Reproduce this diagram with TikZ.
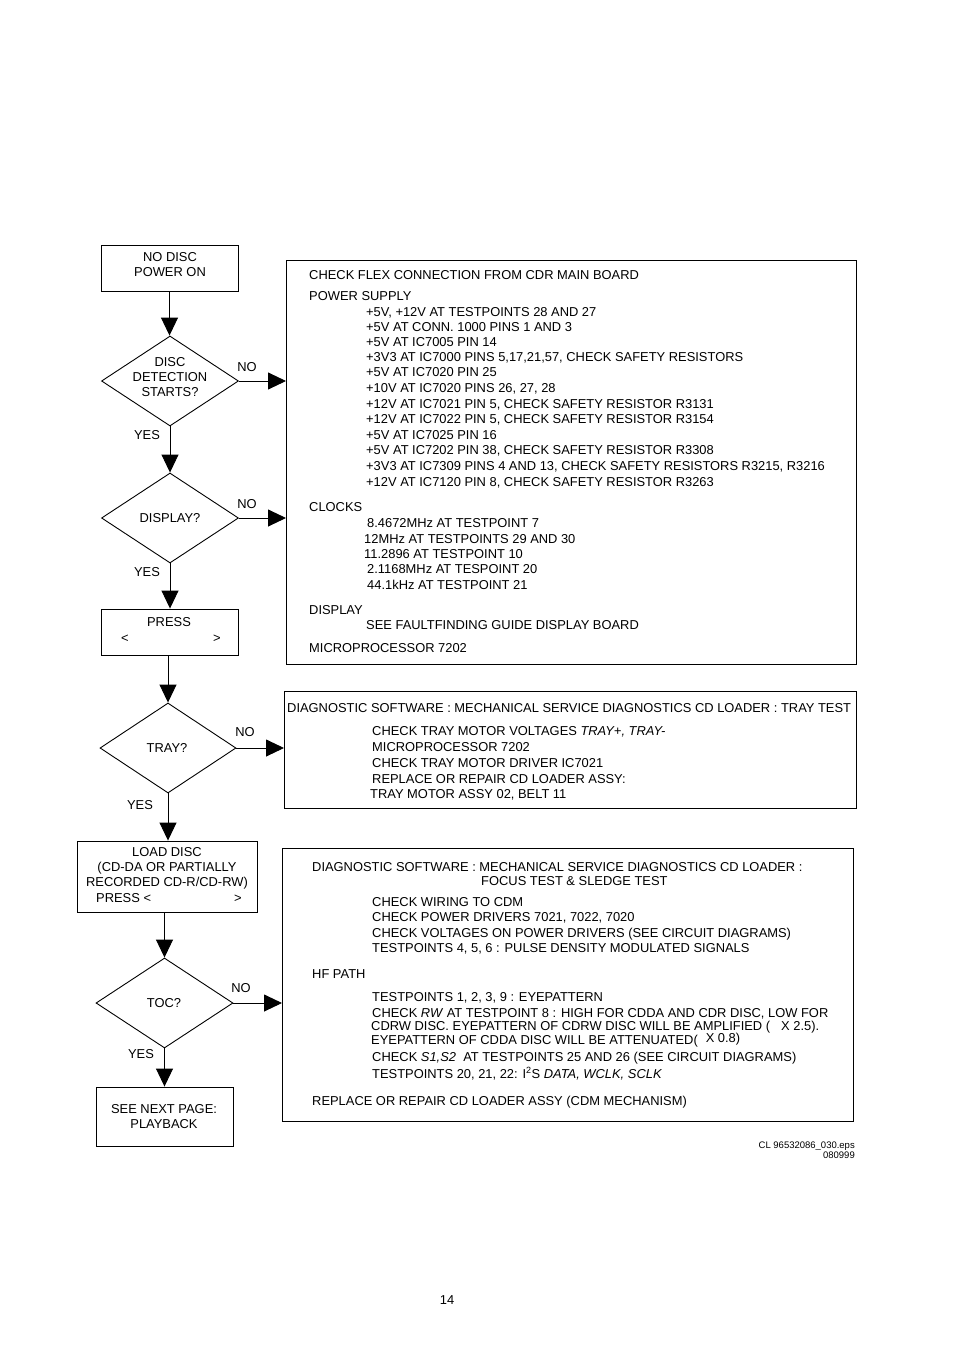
\documentclass[tikz,border=0pt]{standalone}
\usepackage{fontspec}
\setmainfont{Liberation Sans}
\usetikzlibrary{arrows.meta,shapes.geometric}
\begin{document}
\begin{tikzpicture}[x=1pt,y=-1pt,
  every node/.style={font=\fontsize{12.9}{15}\selectfont, inner sep=0pt},
  box/.style={draw, line width=0.9pt, minimum width=137pt, minimum height=46pt},
  bigbox/.style={draw, line width=1.1pt, anchor=north west},
  dia/.style={draw, diamond, line width=0.9pt, minimum width=137pt, minimum height=90pt, inner sep=0pt},
  arr/.style={line width=0.9pt, -{Triangle[length=18pt,width=17pt]}},
  ln/.style={line width=0.9pt},
  tl/.style={anchor=base west},
  lab/.style={anchor=base}
]
\useasboundingbox (0,0) rectangle (954,1351);
% ---------- left flow ----------
\node[box] (start) at (169.5,268) {};
\node (startt) at (170,265) [align=center] {NO DISC\\POWER ON};
\node[dia] (d1) at (170,381) {};
\node (d1t) at (170,377) [align=center] {DISC\\DETECTION\\STARTS?};
\node[dia] (d2) at (170,518) {};
\node (d2t) at (170,518) {DISPLAY?};
\node[box] (press) at (169.5,632) {};
\node[lab] (presst) at (169,626) {PRESS};
\node[lab] (pl) at (125,642) {<};
\node[lab] (pr) at (217,642) {>};
\node[dia, minimum width=136pt] (d3) at (168,748) {};
\node (d3t) at (167,748) {TRAY?};
\node[box, minimum width=180pt, minimum height=71pt] (load) at (167,876.5) {};
\node (loadt) at (167,868) [align=center] {LOAD DISC\\(CD-DA OR PARTIALLY\\RECORDED CD-R/CD-RW)};
\node[tl] (loadp) at (96,902) {PRESS <};
\node[tl] (loadq) at (234,902) {>};
\node[dia] (d4) at (164.5,1003) {};
\node (d4t) at (164,1003) {TOC?};
\node[box, minimum height=59pt] (next) at (164.5,1116.5) {};
\node (nextt) at (164,1116.5) [align=center] {SEE NEXT PAGE:\\PLAYBACK};
% ---------- right boxes ----------
\node[bigbox, minimum width=570pt, minimum height=404pt] (bA) at (286,260) {};
\node[bigbox, minimum width=572pt, minimum height=117pt] (bB) at (284,691) {};
\node[bigbox, minimum width=571pt, minimum height=273pt] (bC) at (282,848) {};
% ---------- connectors ----------
\draw[arr] (start.south) -- (start.south |- d1.north);
\draw[arr] (d1.south) -- (d1.south |- d2.north);
\draw[arr] (d2.south) -- (d2.south |- press.north);
\draw[arr] (press.south -| d3.north) -- (d3.north);
\draw[arr] (d3.south) -- (d3.south |- load.north);
\draw[arr] (load.south -| d4.north) -- (d4.north);
\draw[arr] (d4.south) -- (d4.south |- next.north);
\draw[arr] (d1.east) -- (d1.east -| bA.west);
\draw[arr] (d2.east) -- (d2.east -| bA.west);
\draw[arr] (d3.east) -- (d3.east -| bB.west);
\draw[arr] (d4.east) -- (d4.east -| bC.west);
% ---------- yes / no labels ----------
\node[lab] (no1) at (247,371) {NO};
\node[lab] (yes1) at (147,439) {YES};
\node[lab] (no2) at (247,508) {NO};
\node[lab] (yes2) at (147,576) {YES};
\node[lab] (no3) at (245,736) {NO};
\node[lab] (yes3) at (140,809) {YES};
\node[lab] (no4) at (241,992) {NO};
\node[lab] (yes4) at (141,1058) {YES};
% ---------- box A text ----------
\node[tl] (a1) at (309,279) {CHECK FLEX CONNECTION FROM CDR MAIN BOARD};
\node[tl] (a2) at (309,300) {POWER SUPPLY};
\node[tl] (a3) at (366,316) {+5V, +12V AT TESTPOINTS 28 AND 27};
\node[tl] (a4) at (366,331) {+5V AT CONN. 1000 PINS 1 AND 3};
\node[tl] (a5) at (366,346) {+5V AT IC7005 PIN 14};
\node[tl] (a6) at (366,361) {+3V3 AT IC7000 PINS 5,17,21,57, CHECK SAFETY RESISTORS};
\node[tl] (a7) at (366,376) {+5V AT IC7020 PIN 25};
\node[tl] (a8) at (366,392) {+10V AT IC7020 PINS 26, 27, 28};
\node[tl] (a9) at (366,408) {+12V AT IC7021 PIN 5, CHECK SAFETY RESISTOR R3131};
\node[tl] (a10) at (366,423) {+12V AT IC7022 PIN 5, CHECK SAFETY RESISTOR R3154};
\node[tl] (a11) at (366,439) {+5V AT IC7025 PIN 16};
\node[tl] (a12) at (366,454) {+5V AT IC7202 PIN 38, CHECK SAFETY RESISTOR R3308};
\node[tl] (a13) at (366,470) {+3V3 AT IC7309 PINS 4 AND 13, CHECK SAFETY RESISTORS R3215, R3216};
\node[tl] (a14) at (366,486) {+12V AT IC7120 PIN 8, CHECK SAFETY RESISTOR R3263};
\node[tl] (a15) at (309,511) {CLOCKS};
\node[tl] (a16) at (367,527) {8.4672MHz AT TESTPOINT 7};
\node[tl] (a17) at (364,543) {12MHz AT TESTPOINTS 29 AND 30};
\node[tl] (a18) at (364,558) {11.2896 AT TESTPOINT 10};
\node[tl] (a19) at (367,573) {2.1168MHz AT TESPOINT 20};
\node[tl] (a20) at (367,589) {44.1kHz AT TESTPOINT 21};
\node[tl] (a21) at (309,614) {DISPLAY};
\node[tl] (a22) at (366,629) {SEE FAULTFINDING GUIDE DISPLAY BOARD};
\node[tl] (a23) at (309,652) {MICROPROCESSOR 7202};
% ---------- box B text ----------
\node[tl] (b1) at (287,712) {DIAGNOSTIC SOFTWARE : MECHANICAL SERVICE DIAGNOSTICS CD LOADER : TRAY TEST};
\node[tl] (b2) at (372,735) {CHECK TRAY MOTOR VOLTAGES \textit{TRAY+, TRAY-}};
\node[tl] (b3) at (372,751) {MICROPROCESSOR 7202};
\node[tl] (b4) at (372,767) {CHECK TRAY MOTOR DRIVER IC7021};
\node[tl] (b5) at (372,783) {REPLACE OR REPAIR CD LOADER ASSY:};
\node[tl] (b6) at (370,798) {TRAY MOTOR ASSY 02, BELT 11};
% ---------- box C text ----------
\node[tl] (c1) at (312,871) {DIAGNOSTIC SOFTWARE : MECHANICAL SERVICE DIAGNOSTICS CD LOADER :};
\node[tl] (c2) at (481,885) {FOCUS TEST \& SLEDGE TEST};
\node[tl] (c3) at (372,906) {CHECK WIRING TO CDM};
\node[tl] (c4) at (372,921) {CHECK POWER DRIVERS 7021, 7022, 7020};
\node[tl] (c5) at (372,937) {CHECK VOLTAGES ON POWER DRIVERS (SEE CIRCUIT DIAGRAMS)};
\node[tl] (c6) at (372,952) {TESTPOINTS 4, 5, 6 : PULSE DENSITY MODULATED SIGNALS};
\node[tl] (c7) at (312,978) {HF PATH};
\node[tl] (c8) at (372,1001) {TESTPOINTS 1, 2, 3, 9 : EYEPATTERN};
\node[tl] (c9) at (372,1017) {CHECK \textit{RW} AT TESTPOINT 8 : HIGH FOR CDDA AND CDR DISC, LOW FOR};
\node[tl] (c10) at (371,1030) {CDRW DISC. EYEPATTERN OF CDRW DISC WILL BE AMPLIFIED (\hspace{11pt}X 2.5).};
\node[tl] (c11) at (371,1044) {EYEPATTERN OF CDDA DISC WILL BE ATTENUATED(\hspace{8pt}\raisebox{2pt}{X 0.8)}};
\node[tl] (c12) at (372,1061) {CHECK \textit{S1,S2} \ AT TESTPOINTS 25 AND 26 (SEE CIRCUIT DIAGRAMS)};
\node[tl] (c13) at (372,1078) {TESTPOINTS 20, 21, 22: I\textsuperscript{2}S \textit{DATA, WCLK, SCLK}};
\node[tl] (c14) at (312,1105) {REPLACE OR REPAIR CD LOADER ASSY (CDM MECHANISM)};
% ---------- footer ----------
\node[anchor=base east, font=\fontsize{9.5}{10}\selectfont] (f1) at (855,1148) {CL 96532086\_030.eps};
\node[anchor=base east, font=\fontsize{9.5}{10}\selectfont] (f2) at (855,1158) {080999};
\node[lab] (pg) at (447,1304) {14};
\end{tikzpicture}
\end{document}
